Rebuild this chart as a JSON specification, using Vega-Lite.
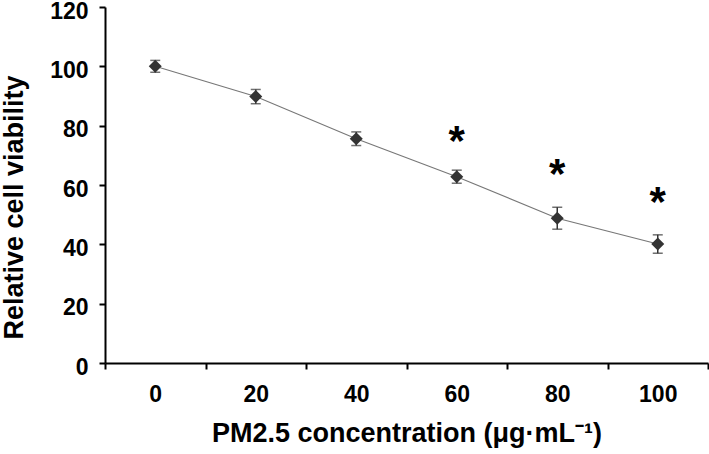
{
  "$schema": "https://vega.github.io/schema/vega-lite/v6.json",
  "width": 603,
  "height": 356,
  "autosize": "none",
  "padding": {"left": 105, "top": 7, "right": 1, "bottom": 91},
  "background": "white",
  "config": {"view": {"stroke": null}, "font": "Liberation Sans"},
  "data": {
    "values": [
      {"conc": "0", "mean": 100, "err": 2, "star": null, "sig": ""},
      {"conc": "20", "mean": 89.8, "err": 2.4, "star": null, "sig": ""},
      {"conc": "40", "mean": 75.6, "err": 2.3, "star": null, "sig": ""},
      {"conc": "60", "mean": 62.8, "err": 2.2, "star": 78, "sig": "*"},
      {"conc": "80", "mean": 48.8, "err": 3.7, "star": 66.7, "sig": "*"},
      {"conc": "100", "mean": 40.1, "err": 3.1, "star": 57.4, "sig": "*"}
    ]
  },
  "encoding": {
    "x": {
      "field": "conc",
      "type": "ordinal",
      "sort": ["0", "20", "40", "60", "80", "100"],
      "scale": {"type": "band", "paddingInner": 0, "paddingOuter": 0},
      "axis": {
        "title": "PM2.5 concentration (μg·mL⁻¹)",
        "labelAngle": 0,
        "tickBand": "extent",
        "labelFont": "Liberation Sans",
        "labelFontWeight": "bold",
        "labelFontSize": 23,
        "labelColor": "black",
        "labelPadding": 14,
        "titleFont": "Liberation Sans",
        "titleFontWeight": "bold",
        "titleFontSize": 27,
        "titleColor": "black",
        "titlePadding": 14,
        "domainColor": "black",
        "domainWidth": 2,
        "tickColor": "black",
        "tickWidth": 2,
        "tickSize": 6,
        "grid": false
      }
    }
  },
  "layer": [
    {
      "mark": {"type": "line", "color": "#777777", "strokeWidth": 1.1},
      "encoding": {
        "y": {
          "field": "mean",
          "type": "quantitative",
          "title": "Relative cell viability",
          "scale": {"domain": [0, 120], "nice": false},
          "axis": {
            "values": [0, 20, 40, 60, 80, 100, 120],
            "grid": false,
            "labelFont": "Liberation Sans",
            "labelFontWeight": "bold",
            "labelFontSize": 23,
            "labelColor": "black",
            "labelPadding": 11,
            "labelBaseline": "middle",
            "labelOffset": 4,
            "labelFlush": false,
            "titleFont": "Liberation Sans",
            "titleFontWeight": "bold",
            "titleFontSize": 27,
            "titleColor": "black",
            "titleX": -91,
            "titleY": 200,
            "titleBaseline": "middle",
            "titleAlign": "center",
            "domainColor": "black",
            "domainWidth": 2,
            "tickColor": "black",
            "tickWidth": 2,
            "tickSize": 6
          }
        }
      }
    },
    {
      "mark": {
        "type": "errorbar",
        "color": "#333333",
        "ticks": {"size": 10, "thickness": 1.5},
        "rule": {"strokeWidth": 1.5}
      },
      "encoding": {
        "y": {"field": "mean", "type": "quantitative", "title": "Relative cell viability"},
        "yError": {"field": "err"}
      }
    },
    {
      "mark": {"type": "point", "shape": "diamond", "filled": true, "size": 170, "color": "#333333", "opacity": 1},
      "encoding": {
        "y": {"field": "mean", "type": "quantitative", "title": "Relative cell viability"}
      }
    },
    {
      "transform": [{"filter": "datum.star != null"}],
      "mark": {"type": "text", "font": "Liberation Sans", "fontWeight": "bold", "fontSize": 42, "color": "black", "baseline": "middle", "dy": 10},
      "encoding": {
        "y": {"field": "star", "type": "quantitative", "title": "Relative cell viability"},
        "text": {"field": "sig"}
      }
    }
  ]
}
